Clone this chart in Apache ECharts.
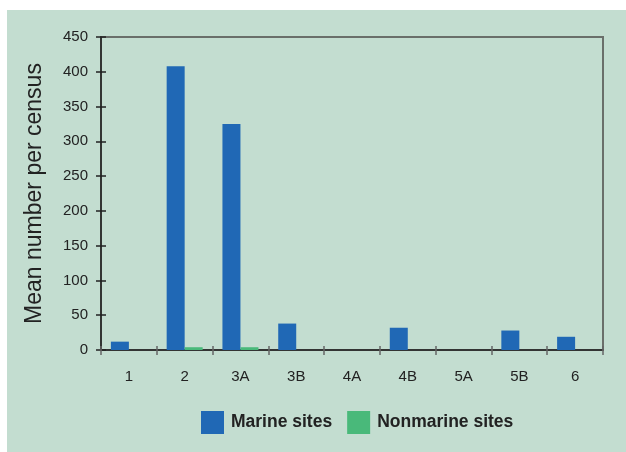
<!DOCTYPE html>
<html>
<head>
<meta charset="utf-8">
<script src="https://cdn.jsdelivr.net/npm/echarts@6/dist/echarts.min.js"></script>
<style>
html,body{margin:0;padding:0;background:#fff;}
#c{width:626px;height:452px;}
</style>
</head>
<body>
<div id="c"></div>
<script>
const categories = ['1','2','3A','3B','4A','4B','5A','5B','6'];
const marine = [12, 408, 325, 38, 0, 32, 0, 28, 19];
const nonmarine = [0, 4, 4, 0, 0, 0, 0, 0, 0];
const yTicks = {min: 0, max: 450, interval: 50};

const chart = echarts.init(document.getElementById('c'), null, {renderer: 'canvas'});
const font = 'Liberation Sans, Arial, sans-serif';
chart.setOption({
  animation: false,
  backgroundColor: '#ffffff',
  graphic: [{
    type: 'rect', z: -10, silent: true,
    shape: {x: 7, y: 10, width: 619, height: 442},
    style: {fill: '#c3ddd0'}
  }],
  grid: {
    left: 101, top: 37, right: 23, bottom: 102,
    show: true, borderColor: '#6a6f6a', borderWidth: 2, backgroundColor: 'transparent'
  },
  legend: {
    left: 196, top: 406,
    itemWidth: 23, itemHeight: 23, itemGap: 15,
    icon: 'rect',
    textStyle: {fontFamily: font, fontSize: 17.5, fontWeight: 'bold', color: '#222', padding: [0,0,0,2]},
    data: ['Marine sites', 'Nonmarine sites']
  },
  xAxis: [{
    type: 'category', data: categories,
    axisLine: {lineStyle: {color: '#222', width: 1.5}},
    axisTick: {show: true, length: 5, lineStyle: {color: '#666', width: 1.5}},
    axisLabel: {fontFamily: font, fontSize: 15, color: '#222', margin: 19},
    splitLine: {show: false}
  }, {
    type: 'category', data: categories, position: 'bottom',
    axisLine: {show: false},
    axisTick: {show: true, inside: true, length: 4, lineStyle: {color: '#666', width: 1.5}},
    axisLabel: {show: false},
    splitLine: {show: false}
  }],
  yAxis: [{
    type: 'value', min: yTicks.min, max: yTicks.max, interval: yTicks.interval,
    name: 'Mean number per census', nameLocation: 'middle', nameGap: 55,
    nameTextStyle: {fontFamily: font, fontSize: 23, color: '#222'},
    axisLine: {show: true, lineStyle: {color: '#222', width: 1.5}},
    axisTick: {show: true, length: 5, lineStyle: {color: '#222', width: 1.5}},
    axisLabel: {fontFamily: font, fontSize: 15, color: '#222', margin: 13},
    splitLine: {show: false}
  }, {
    type: 'value', min: yTicks.min, max: yTicks.max, interval: yTicks.interval,
    position: 'left',
    axisLine: {show: false},
    axisTick: {show: true, inside: true, length: 5, lineStyle: {color: '#222', width: 1.5}},
    axisLabel: {show: false},
    splitLine: {show: false}
  }],
  series: [{
    name: 'Marine sites', type: 'bar', data: marine,
    barWidth: 18, barGap: '0%',
    itemStyle: {color: '#2068b5'}
  }, {
    name: 'Nonmarine sites', type: 'bar', data: nonmarine,
    barWidth: 18,
    itemStyle: {color: '#49b97a'}
  }]
});
</script>
</body>
</html>
